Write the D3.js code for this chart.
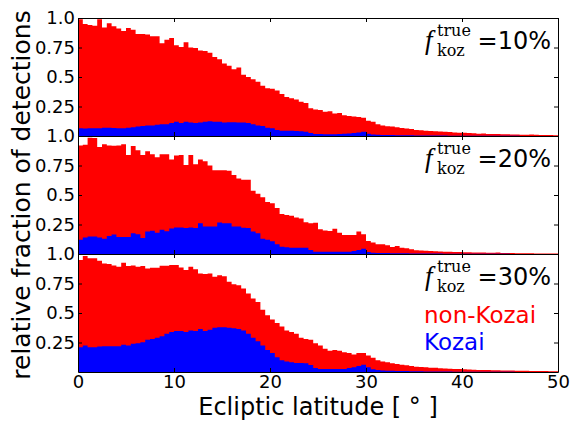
<!DOCTYPE html>
<html>
<head>
<meta charset="utf-8">
<script src="https://cdn.jsdelivr.net/npm/d3@7"></script>
<style>
  body { margin: 0; background: #fff; }
</style>
</head>
<body>
<div id="chart"></div>
<script>
// bins of 0.5 deg from 0 to 50
const binWidth = 0.5
const binStarts = d3.range(0, 50, binWidth)

// panel labels (true Kozai fraction)
const panelLabels = ["10%", "20%", "30%"]

// top of the red bars (non-Kozai + Kozai), per panel
const total10 = [
  0.99,0.95,0.94,0.935,0.99,0.92,0.955,0.93,0.91,0.89,
  0.915,0.90,0.865,0.865,0.86,0.845,0.845,0.785,0.815,0.83,
  0.77,0.755,0.795,0.75,0.745,0.725,0.72,0.705,0.67,0.65,
  0.615,0.595,0.565,0.58,0.52,0.50,0.48,0.46,0.425,0.405,
  0.40,0.385,0.355,0.33,0.32,0.31,0.29,0.28,0.235,0.225,
  0.22,0.205,0.21,0.19,0.195,0.175,0.17,0.165,0.16,0.155,
  0.13,0.12,0.10,0.09,0.083,0.08,0.075,0.068,0.063,0.06,
  0.05,0.048,0.045,0.042,0.04,0.038,0.036,0.033,0.03,0.028,
  0.027,0.025,0.023,0.02,0.022,0.018,0.017,0.016,0.015,0.014,
  0.012,0.013,0.011,0.01,0.012,0.01,0.009,0.008,0.008,0.007
]
const total20 = [
  0.92,0.925,0.985,0.983,0.906,0.93,0.92,0.918,0.92,0.93,
  0.84,0.915,0.88,0.84,0.87,0.845,0.82,0.845,0.845,0.80,
  0.835,0.84,0.755,0.84,0.76,0.80,0.785,0.75,0.71,0.71,
  0.71,0.705,0.67,0.64,0.63,0.63,0.535,0.51,0.48,0.44,
  0.43,0.39,0.34,0.33,0.325,0.31,0.30,0.27,0.26,0.265,
  0.21,0.20,0.195,0.215,0.18,0.16,0.162,0.16,0.19,0.168,
  0.11,0.097,0.082,0.082,0.074,0.06,0.068,0.054,0.048,0.04,
  0.032,0.03,0.028,0.025,0.024,0.022,0.02,0.02,0.018,0.016,
  0.015,0.014,0.013,0.012,0.013,0.011,0.01,0.012,0.009,0.008,
  0.008,0.007,0.007,0.006,0.006,0.005,0.005,0.004,0.004,0.004
]
const total30 = [
  0.95,0.983,0.963,0.963,0.943,0.92,0.915,0.903,0.892,0.926,
  0.898,0.903,0.892,0.898,0.878,0.884,0.884,0.90,0.90,0.906,
  0.906,0.886,0.864,0.892,0.87,0.835,0.83,0.835,0.807,0.82,
  0.812,0.764,0.744,0.736,0.707,0.665,0.622,0.594,0.528,0.48,
  0.445,0.415,0.386,0.352,0.338,0.324,0.29,0.28,0.273,0.244,
  0.224,0.196,0.18,0.187,0.18,0.168,0.16,0.148,0.16,0.16,
  0.14,0.12,0.10,0.09,0.082,0.074,0.068,0.062,0.057,0.05,
  0.045,0.042,0.04,0.037,0.035,0.032,0.03,0.028,0.026,0.025,
  0.023,0.021,0.02,0.018,0.017,0.016,0.015,0.014,0.013,0.012,
  0.012,0.011,0.01,0.01,0.009,0.009,0.008,0.008,0.007,0.007
]

// Kozai (blue) fraction, per panel
const kozai10 = [
  0.065,0.063,0.066,0.066,0.066,0.07,0.07,0.068,0.066,0.065,
  0.07,0.075,0.08,0.085,0.088,0.09,0.095,0.1,0.1,0.11,
  0.12,0.11,0.12,0.115,0.11,0.115,0.12,0.125,0.12,0.12,
  0.115,0.117,0.117,0.115,0.115,0.11,0.1,0.09,0.085,0.07,
  0.065,0.05,0.045,0.045,0.045,0.042,0.04,0.035,0.025,0.018,
  0.016,0.015,0.015,0.015,0.018,0.02,0.022,0.025,0.03,0.035,
  0.02,0.012,0.01,0.009,0.008,0.008,0.007,0.007,0.006,0.006,
  0.005,0.005,0.005,0.004,0.004,0.004,0.004,0.003,0.003,0.003,
  0.003,0.003,0.003,0.002,0.002,0.002,0.002,0.002,0.002,0.002,
  0.002,0.002,0.001,0.001,0.001,0.001,0.001,0.001,0.001,0.001
]
const kozai20 = [
  0.12,0.14,0.148,0.148,0.14,0.13,0.153,0.165,0.145,0.145,
  0.145,0.176,0.168,0.136,0.19,0.196,0.18,0.205,0.193,0.216,
  0.224,0.224,0.22,0.224,0.22,0.26,0.233,0.233,0.233,0.267,
  0.26,0.26,0.233,0.233,0.222,0.22,0.19,0.176,0.13,0.12,
  0.108,0.082,0.062,0.057,0.054,0.054,0.054,0.054,0.034,0.02,
  0.02,0.02,0.02,0.02,0.02,0.02,0.02,0.026,0.034,0.045,
  0.017,0.01,0.009,0.008,0.008,0.007,0.007,0.006,0.006,0.005,
  0.005,0.005,0.004,0.004,0.004,0.004,0.003,0.003,0.003,0.003,
  0.003,0.002,0.002,0.002,0.002,0.002,0.002,0.002,0.002,0.002,
  0.001,0.001,0.001,0.001,0.001,0.001,0.001,0.001,0.001,0.001
]
const kozai30 = [
  0.21,0.224,0.21,0.21,0.216,0.218,0.218,0.218,0.218,0.23,
  0.224,0.239,0.244,0.253,0.273,0.28,0.29,0.304,0.324,0.338,
  0.347,0.347,0.338,0.352,0.347,0.364,0.347,0.358,0.375,0.38,
  0.38,0.375,0.37,0.364,0.352,0.324,0.29,0.26,0.224,0.187,
  0.16,0.125,0.10,0.088,0.082,0.077,0.077,0.074,0.06,0.034,
  0.026,0.026,0.026,0.026,0.026,0.026,0.034,0.04,0.05,0.062,
  0.04,0.023,0.017,0.012,0.011,0.01,0.009,0.008,0.008,0.007,
  0.006,0.006,0.005,0.005,0.005,0.004,0.004,0.004,0.003,0.003,
  0.003,0.003,0.003,0.002,0.002,0.002,0.002,0.002,0.002,0.002,
  0.002,0.001,0.001,0.001,0.001,0.001,0.001,0.001,0.001,0.001
]

const yTicks = [0.25, 0.5, 0.75, 1.0]
const xTicks = [0, 10, 20, 30, 40, 50]

const panels = [
  { label: panelLabels[0], total: total10, kozai: kozai10 },
  { label: panelLabels[1], total: total20, kozai: kozai20 },
  { label: panelLabels[2], total: total30, kozai: kozai30 }
]

const svgWidth = 572, svgHeight = 421
const margin = { top: 18, left: 78, right: 14 }
const panelHeight = 118
const width = svgWidth - margin.left - margin.right

const sans = "DejaVu Sans, sans-serif"
const serif = "Liberation Serif, DejaVu Serif, serif"
const mathRoman = "DejaVu Serif, serif"

const svg = d3.select("#chart").append("svg")
  .attr("width", svgWidth)
  .attr("height", svgHeight)
  .style("font-family", sans)

const x = d3.scaleLinear().domain([0, 50]).range([0, width])
const y = d3.scaleLinear().domain([0, 1]).range([panelHeight, 0])

// histogram bars drawn as one stepped outline per series (no seams between bins)
const stepArea = d3.area()
  .x(d => x(d[0]))
  .y0(y(0))
  .y1(d => y(d[1]))
  .curve(d3.curveStepAfter)

const binsOf = values => binStarts.map((b, i) => [b, values[i]])
  .concat([[binStarts[binStarts.length - 1] + binWidth, values[values.length - 1]]])

panels.forEach((p, k) => {
  const g = svg.append("g")
    .attr("transform", `translate(${margin.left}, ${margin.top + k * panelHeight})`)

  g.append("path").datum(binsOf(p.total))
    .attr("d", stepArea)
    .attr("fill", "#ff0000")

  g.append("path").datum(binsOf(p.kozai))
    .attr("d", stepArea)
    .attr("fill", "#0000ff")

  // axes with inward ticks on all four sides
  g.append("g").attr("transform", `translate(0, ${panelHeight})`)
    .call(d3.axisBottom(x).tickValues(xTicks).tickSizeInner(-4).tickSizeOuter(0)
      .tickFormat(k === 2 ? d3.format("d") : ""))
  g.append("g")
    .call(d3.axisTop(x).tickValues(xTicks).tickSizeInner(-4).tickSizeOuter(0).tickFormat(""))
  g.append("g")
    .call(d3.axisLeft(y).tickValues(yTicks).tickSizeInner(-4).tickSizeOuter(0)
      .tickFormat(d => d === 1 ? "1.0" : String(d)))
  g.append("g").attr("transform", `translate(${width}, 0)`)
    .call(d3.axisRight(y).tickValues(yTicks).tickSizeInner(-4).tickSizeOuter(0).tickFormat(""))

  g.selectAll(".domain").attr("stroke", "#000").attr("stroke-width", 1)
  g.selectAll(".tick line").attr("stroke", "#000")
  g.selectAll(".tick text")
    .style("font-family", sans)
    .style("font-size", "18px")
    .attr("fill", "#000")

  // annotation f_koz^true = N%
  const ann = g.append("g").attr("transform", `translate(${width}, 31)`)
  ann.append("text")
    .attr("x", -7).attr("y", 0).attr("text-anchor", "end")
    .style("font-family", sans).style("font-size", "24px")
    .text("=" + p.label)
  ann.append("text")
    .attr("x", -133).attr("y", 0)
    .style("font-family", serif).style("font-style", "italic").style("font-size", "27px")
    .text("f")
  ann.append("text")
    .attr("x", -121).attr("y", -13)
    .style("font-family", mathRoman).style("font-size", "16px")
    .text("true")
  ann.append("text")
    .attr("x", -121).attr("y", 7)
    .style("font-family", mathRoman).style("font-size", "16px")
    .text("koz")
})

// legend in the bottom panel
const legend = svg.append("g")
  .attr("transform", `translate(${margin.left + width - 134}, ${margin.top + 2 * panelHeight})`)
legend.append("text").attr("x", 0).attr("y", 69)
  .style("font-size", "23px").attr("fill", "#ff0000").text("non-Kozai")
legend.append("text").attr("x", 0).attr("y", 96)
  .style("font-size", "23px").attr("fill", "#0000ff").text("Kozai")

// axis titles
svg.append("text")
  .attr("transform", `translate(${margin.left + width / 2}, 415)`)
  .attr("text-anchor", "middle")
  .style("font-size", "24px")
  .text("Ecliptic latitude [ ° ]")

svg.append("text")
  .attr("transform", `translate(30, ${margin.top + 1.5 * panelHeight}) rotate(-90)`)
  .attr("text-anchor", "middle")
  .style("font-size", "25px")
  .text("relative fraction of detections")
</script>
</body>
</html>
